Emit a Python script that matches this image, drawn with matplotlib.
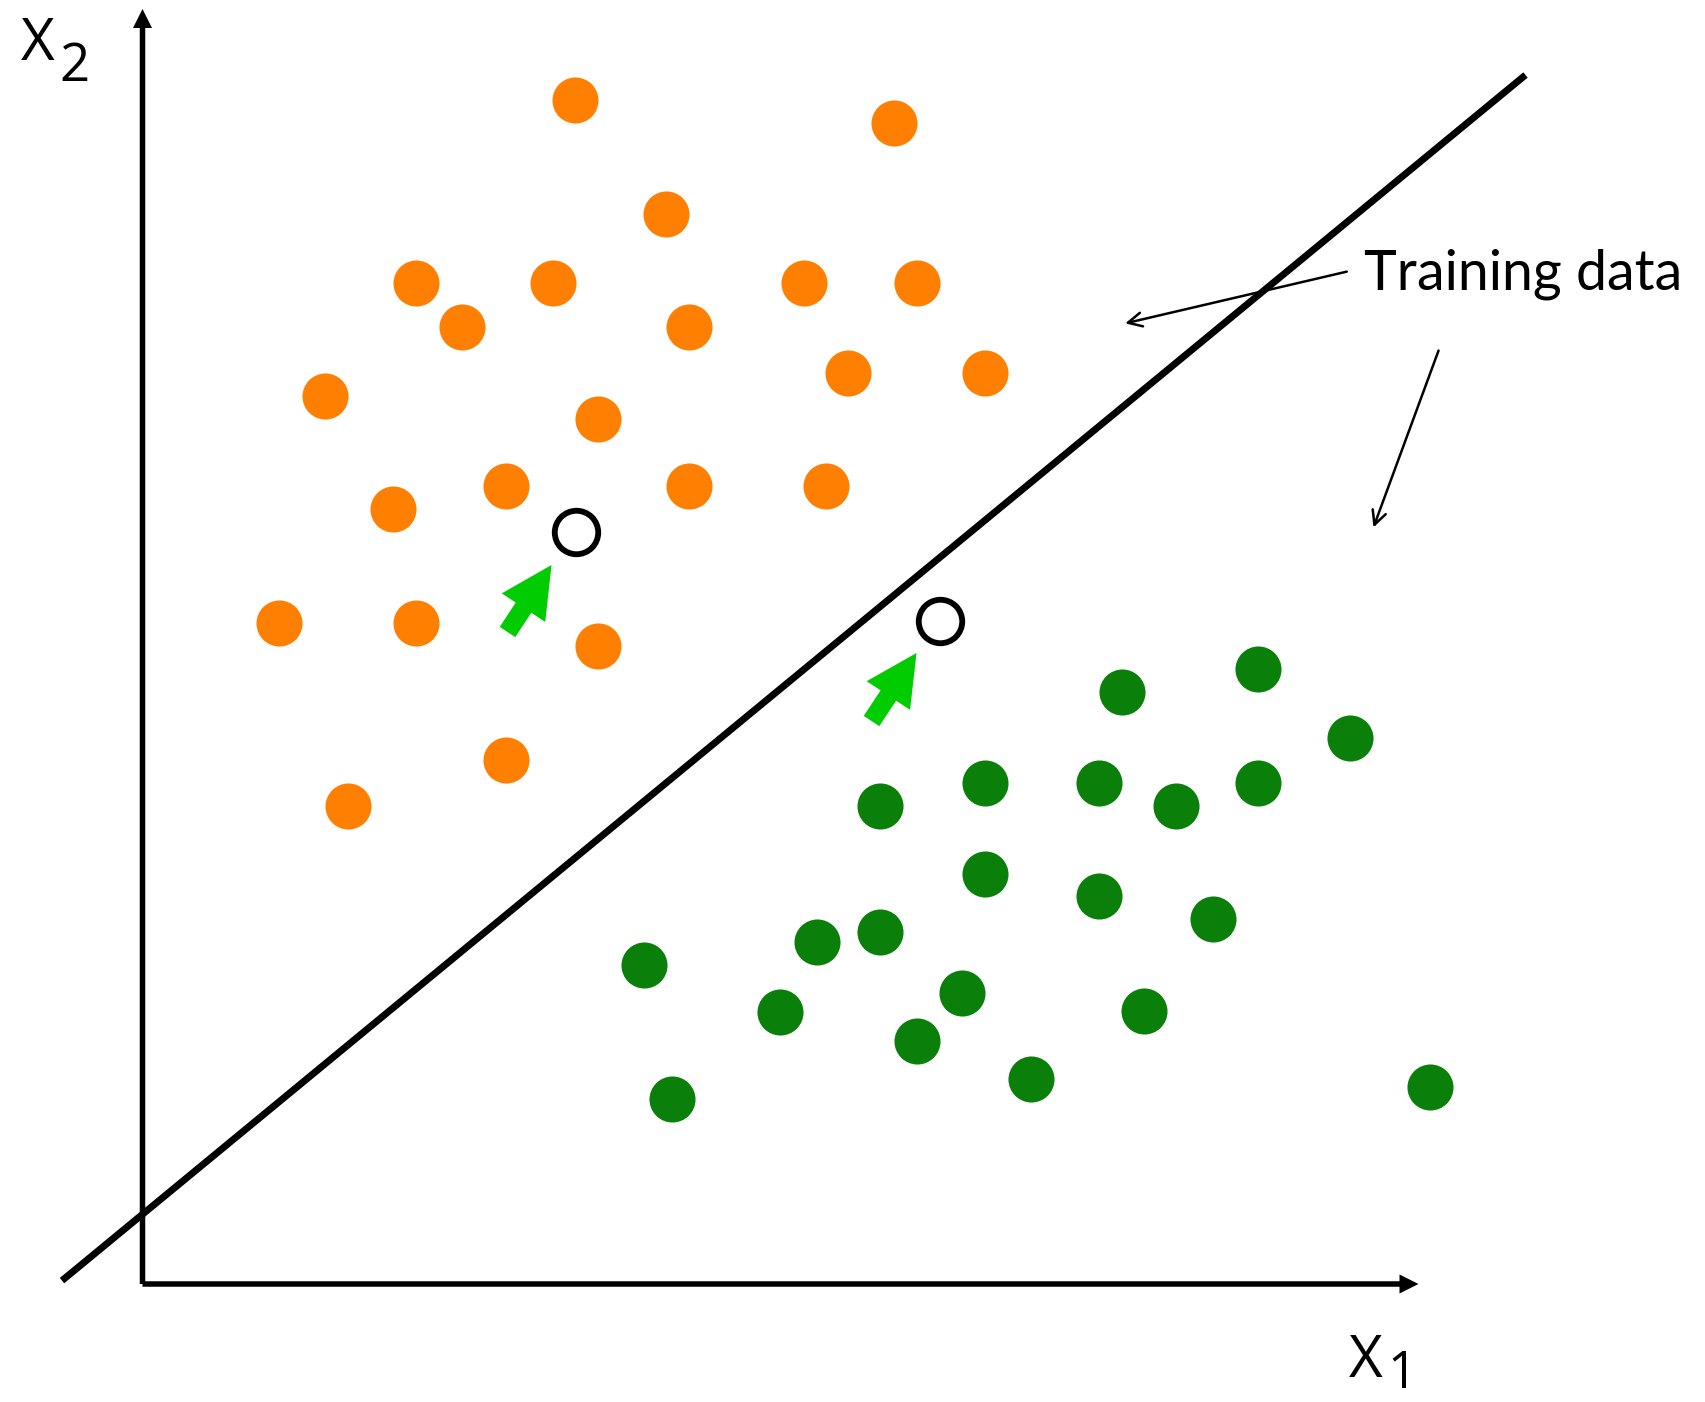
import numpy as np
import matplotlib
matplotlib.use('Agg')
from matplotlib import pyplot as plt
from matplotlib.patches import FancyArrow

# orange class (x1, x2)
orange_x1 = [4.32, 7.51, 5.23, 2.73, 4.10, 6.61, 7.74, 3.19, 5.46, 1.82, 7.05,
             8.42, 4.55, 2.50, 3.63, 5.46, 6.83, 1.36, 2.73, 4.55, 3.63, 2.05]
orange_x2 = [11.84, 11.61, 10.70, 10.01, 10.01, 10.01, 10.01, 9.57, 9.57, 8.88, 9.11,
             9.11, 8.65, 7.75, 7.98, 7.98, 7.98, 6.61, 6.61, 6.38, 5.24, 4.78]

# green class
green_x1 = [9.79, 11.15, 12.07, 8.42, 9.56, 11.15, 7.37, 10.33, 8.42, 9.56, 10.70,
            6.74, 7.37, 5.01, 8.19, 6.37, 10.01, 7.74, 8.88, 5.29, 12.87]
green_x2 = [5.92, 6.15, 5.46, 5.01, 5.01, 5.01, 4.78, 4.78, 4.10, 3.88, 3.65,
            3.42, 3.52, 3.19, 2.91, 2.72, 2.73, 2.43, 2.05, 1.85, 1.97]

# new (unlabelled) points
new_x1 = [4.33, 7.97]
new_x2 = [7.52, 6.63]

# green pointer arrows: tail -> tip
ptr_tail = [(3.65, 6.52), (7.29, 5.63)]
ptr_tip = [(4.09, 7.19), (7.74, 6.31)]

# separating line
line_x1 = [-0.805, 13.83]
line_x2 = [0.034, 12.09]

W, H = 1706, 1402
fig = plt.figure(figsize=(W / 100, H / 100), dpi=100)
ax = fig.add_axes([0, 0, 1, 1])
ax.set_xlim(-1.425, -1.425 + W / 100)
ax.set_ylim(12.84 - H / 100, 12.84)
ax.axis('off')

# axes with arrow heads
ax.add_patch(FancyArrow(0, 0, 0, 12.75, width=0.055, head_width=0.19, head_length=0.19,
                        length_includes_head=True, color='black', lw=0))
ax.add_patch(FancyArrow(0, 0, 12.76, 0, width=0.055, head_width=0.19, head_length=0.19,
                        length_includes_head=True, color='black', lw=0))

ax.plot(line_x1, line_x2, color='black', lw=5.0, solid_capstyle='butt')

ax.scatter(orange_x1, orange_x2, s=1100, color='#FF8000', lw=0, zorder=3)
ax.scatter(green_x1, green_x2, s=1100, color='#0A800A', lw=0, zorder=3)
ax.scatter(new_x1, new_x2, s=980, facecolor='white', edgecolor='black', lw=4.2, zorder=3)

for (x0, y0), (x1, y1) in zip(ptr_tail, ptr_tip):
    ax.add_patch(FancyArrow(x0, y0, x1 - x0, y1 - y0, width=0.186, head_width=0.52,
                            head_length=0.51, length_includes_head=True,
                            color='#00CC00', lw=0, zorder=4))

# annotation
ax.text(12.22, 9.94, 'Training data', fontsize=40, family='Lato', va='baseline', ha='left')
ax.annotate('', xy=(9.80, 9.60), xytext=(12.07, 10.13),
            arrowprops=dict(arrowstyle='->', lw=1.8, mutation_scale=25, color='black'))
ax.annotate('', xy=(12.30, 7.54), xytext=(12.97, 9.36),
            arrowprops=dict(arrowstyle='->', lw=1.8, mutation_scale=25, color='black'))

# axis labels
ax.text(-1.215, 12.24, 'X', fontsize=42, family='Open Sans', va='baseline', ha='left')
ax.text(-0.83, 12.03, '2', fontsize=38, family='Open Sans', va='baseline', ha='left')
ax.text(12.06, -0.93, 'X', fontsize=42, family='Open Sans', va='baseline', ha='left')
ax.text(12.45, -1.04, '1', fontsize=37, family='Open Sans', va='baseline', ha='left')

fig.savefig('out.png', dpi=100)
